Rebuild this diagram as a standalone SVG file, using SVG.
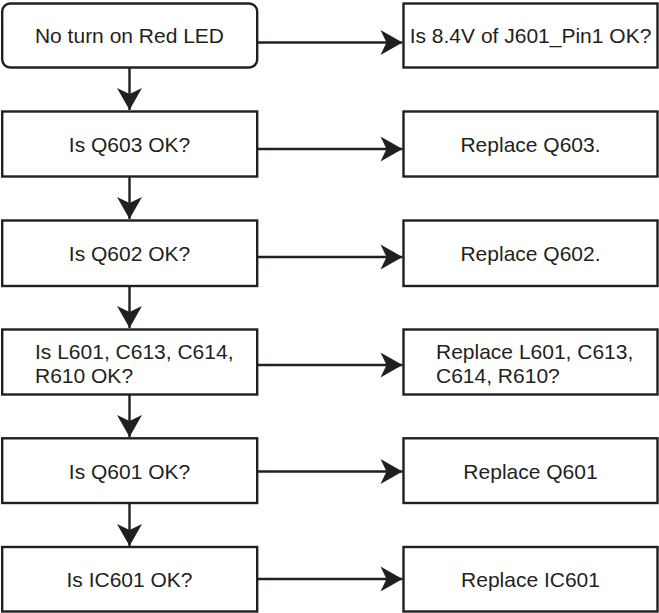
<svg xmlns="http://www.w3.org/2000/svg" width="659" height="613" viewBox="0 0 659 613">
<style>
.box{fill:#fff;stroke:#231f20;stroke-width:2.4}
.t{font-family:"Liberation Sans",Arial,sans-serif;font-size:21px;fill:#231f20}
.c{text-anchor:middle}
.ln{stroke:#231f20;stroke-width:2.4;fill:none}
</style>
<defs>
<marker id="ah" viewBox="-23 -13 24 26" refX="0" refY="0" markerWidth="24" markerHeight="26" markerUnits="userSpaceOnUse" orient="auto">
<path d="M0,0 L-22,-12.5 L-16,0 L-22,12.5 Z" fill="#231f20"/>
</marker>
</defs>
<rect width="659" height="613" fill="#fff"/>
<g id="connectors">
<line class="ln" x1="129.5" y1="67.5" x2="129.5" y2="110" marker-end="url(#ah)"/>
<line class="ln" x1="129.5" y1="176.5" x2="129.5" y2="219" marker-end="url(#ah)"/>
<line class="ln" x1="129.5" y1="286" x2="129.5" y2="328" marker-end="url(#ah)"/>
<line class="ln" x1="129.5" y1="394.5" x2="129.5" y2="437" marker-end="url(#ah)"/>
<line class="ln" x1="129.5" y1="503" x2="129.5" y2="546" marker-end="url(#ah)"/>
<line class="ln" x1="257" y1="42.5" x2="402.5" y2="42.5" marker-end="url(#ah)"/>
<line class="ln" x1="257" y1="149" x2="402.5" y2="149" marker-end="url(#ah)"/>
<line class="ln" x1="257" y1="257" x2="402.5" y2="257" marker-end="url(#ah)"/>
<line class="ln" x1="257" y1="365" x2="402.5" y2="365" marker-end="url(#ah)"/>
<line class="ln" x1="257" y1="471.5" x2="402.5" y2="471.5" marker-end="url(#ah)"/>
<line class="ln" x1="257" y1="579" x2="402.5" y2="579" marker-end="url(#ah)"/>
</g>
<g id="n1"><rect class="box" x="2.2" y="3.5" width="255" height="64" rx="8"/><text class="t c" x="129.5" y="43">No turn on Red LED</text></g>
<g id="n2"><rect class="box" x="403.5" y="3.5" width="254" height="64"/><text class="t c" x="530.5" y="43">Is 8.4V of J601_Pin1 OK?</text></g>
<g id="n3"><rect class="box" x="2.2" y="111.5" width="255" height="65"/><text class="t c" x="129.5" y="151.5">Is Q603 OK?</text></g>
<g id="n4"><rect class="box" x="403.5" y="111.5" width="254" height="65"/><text class="t c" x="530.5" y="151.5">Replace Q603.</text></g>
<g id="n5"><rect class="box" x="2.2" y="220.5" width="255" height="65.5"/><text class="t c" x="129.5" y="260.5">Is Q602 OK?</text></g>
<g id="n6"><rect class="box" x="403.5" y="220.5" width="254" height="65.5"/><text class="t c" x="530.5" y="260.5">Replace Q602.</text></g>
<g id="n7"><rect class="box" x="2.2" y="329.5" width="255" height="65"/><text class="t" x="35" y="359.3">Is L601, C613, C614,</text><text class="t" x="35" y="383.3">R610 OK?</text></g>
<g id="n8"><rect class="box" x="403.5" y="329.5" width="254" height="65"/><text class="t" x="436" y="359.3">Replace L601, C613,</text><text class="t" x="436" y="383.3">C614, R610?</text></g>
<g id="n9"><rect class="box" x="2.2" y="438.3" width="255" height="64.7"/><text class="t c" x="129.5" y="478.5">Is Q601 OK?</text></g>
<g id="n10"><rect class="box" x="403.5" y="438.3" width="254" height="64.7"/><text class="t c" x="530.5" y="478.5">Replace Q601</text></g>
<g id="n11"><rect class="box" x="2.2" y="547" width="255" height="64.5"/><text class="t c" x="129.5" y="586.5">Is IC601 OK?</text></g>
<g id="n12"><rect class="box" x="403.5" y="547" width="254" height="64.5"/><text class="t c" x="530.5" y="586.5">Replace IC601</text></g>
</svg>
